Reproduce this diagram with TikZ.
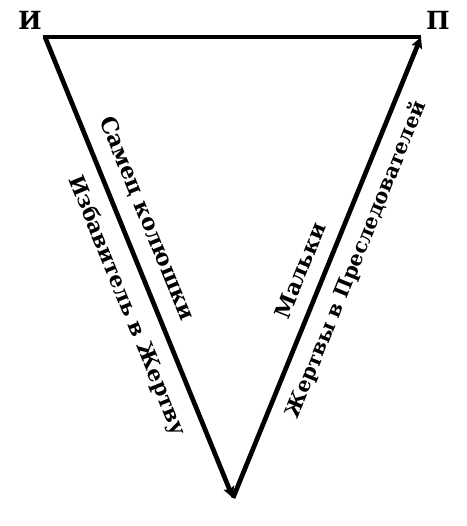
\documentclass[tikz,border=0pt]{standalone}
\usepackage{fontspec}
\setmainfont{DejaVu Serif}
\usetikzlibrary{arrows.meta}
\tikzset{
  edge/.style={line width=4.7pt, line cap=butt},
  tip/.style={-{Stealth[length=11pt,width=11pt,inset=2pt]}},
  vlabel/.style={font=\fontsize{25}{25}\selectfont\bfseries, inner sep=0pt},
  lbl/.style={sloped, anchor=center, inner sep=0pt},
}
\begin{document}
\begin{tikzpicture}[x=1pt,y=-1pt]
\useasboundingbox (0,0) rectangle (466,526);
\coordinate (I) at (45,37);
\coordinate (P) at (421,37);
\coordinate (B) at (233,498);
\node[vlabel] (Il) at (30,20) {И};
\node[vlabel] (Pl) at (438,20) {П};
\draw[edge] (43,37) -- (P);
\draw[edge, tip] (I) -- (B)
  node[lbl, pos=0.415, yshift=26pt, font=\bfseries\fontsize{22.5}{22.5}\selectfont] (s1) {Самец колюшки}
  node[lbl, pos=0.562, yshift=-26pt, font=\bfseries\fontsize{21.5}{21.5}\selectfont] (s2) {Избавитель в Жертву};
\draw[edge, tip] (B) -- (P)
  node[lbl, pos=0.474, yshift=24pt, font=\bfseries\fontsize{22}{22}\selectfont] (s3) {Мальки}
  node[lbl, pos=0.536, yshift=-24pt, font=\bfseries\fontsize{20.5}{20.5}\selectfont] (s4) {Жертвы в Преследователей};
\end{tikzpicture}
\end{document}
